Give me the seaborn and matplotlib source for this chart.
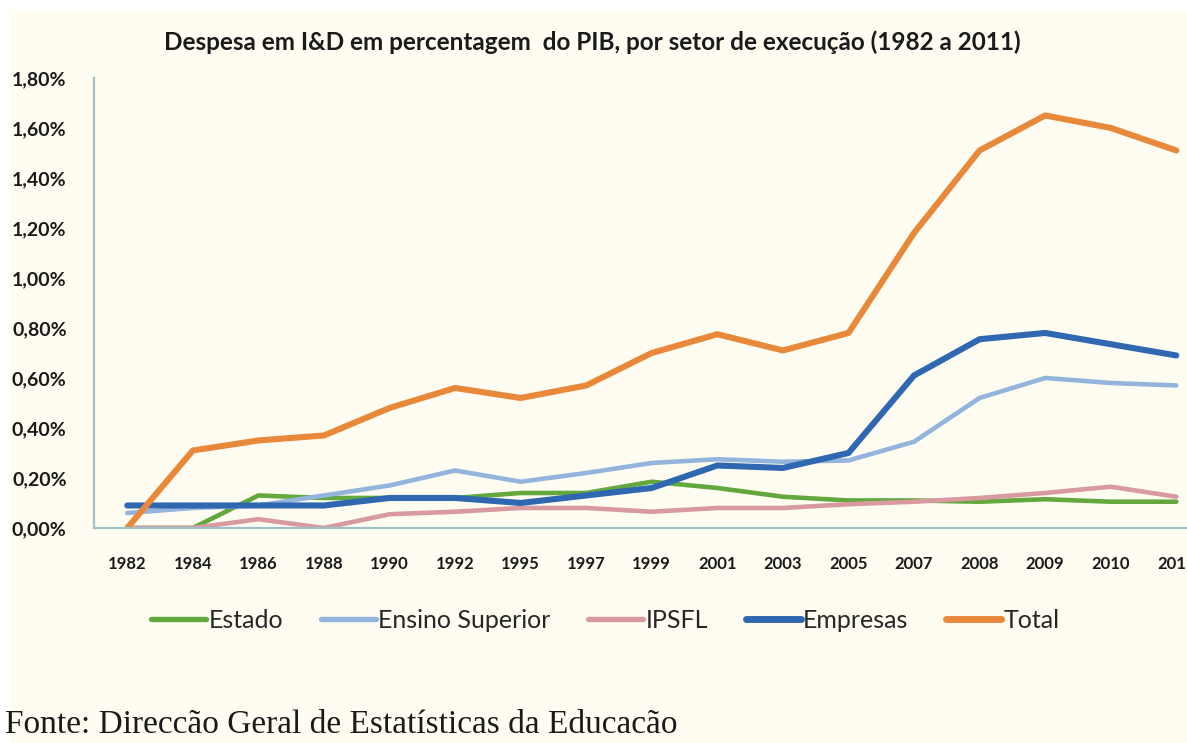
import numpy as np
import pandas as pd
import matplotlib
matplotlib.use('Agg')
import matplotlib.pyplot as plt
from matplotlib.patches import Rectangle
import seaborn as sns

# dados (% do PIB)
anos = ['1982', '1984', '1986', '1988', '1990', '1992', '1995', '1997', '1999',
        '2001', '2003', '2005', '2007', '2008', '2009', '2010', '2011']
estado = [0.00, 0.00, 0.13, 0.12, 0.12, 0.12, 0.14, 0.14, 0.185,
          0.16, 0.125, 0.11, 0.11, 0.105, 0.115, 0.105, 0.105]
ensino_superior = [0.06, 0.08, 0.09, 0.13, 0.17, 0.23, 0.185, 0.22, 0.26,
                   0.275, 0.265, 0.27, 0.345, 0.52, 0.60, 0.58, 0.57]
ipsfl = [0.00, 0.00, 0.035, 0.00, 0.055, 0.065, 0.08, 0.08, 0.065,
         0.08, 0.08, 0.095, 0.105, 0.12, 0.14, 0.165, 0.125]
empresas = [0.09, 0.09, 0.09, 0.09, 0.12, 0.12, 0.10, 0.13, 0.16,
            0.25, 0.24, 0.30, 0.61, 0.755, 0.78, 0.735, 0.69]
total = [0.00, 0.31, 0.35, 0.37, 0.48, 0.56, 0.52, 0.57, 0.70,
         0.775, 0.71, 0.78, 1.18, 1.51, 1.65, 1.60, 1.51]

series = ['Estado', 'Ensino Superior', 'IPSFL', 'Empresas', 'Total']
cores = ['#62A83E', '#93B4DC', '#D89A9E', '#2F67B1', '#E8883A']
larguras = [3.3, 3.3, 3.3, 4.4, 4.4]

df = pd.DataFrame({'ano': anos, 'Estado': estado, 'Ensino Superior': ensino_superior,
                   'IPSFL': ipsfl, 'Empresas': empresas, 'Total': total})
df['pos'] = np.arange(len(anos))

creme = '#FFFDF1'
fonte = ['Lato', 'DejaVu Sans']

sns.set_style('white')
plt.rcParams['font.family'] = fonte

fig = plt.figure(figsize=(11.87, 7.43), dpi=100, facecolor='white')
fundo = Rectangle((10 / 1187, 0), 1, 1 - 10 / 743, transform=fig.transFigure,
                  facecolor=creme, edgecolor='none', zorder=-10)
fig.patches.append(fundo)

ax = fig.add_axes([0.0796, 0.2894, 0.939, 0.6057])
ax.set_facecolor('none')

for nome, cor, lw in zip(series, cores, larguras):
    sns.lineplot(data=df, x='pos', y=nome, color=cor, linewidth=lw,
                 ax=ax, solid_capstyle='round', legend=False)

ax.set_xlim(-0.5, 16.5)
ax.set_ylim(0, 1.8)
ax.set_xticks(df['pos'])
ax.set_xticklabels(anos, fontsize=12, fontweight='bold', color='#1a1a1a')
yt = np.arange(0, 1.81, 0.2)
ax.set_yticks(yt)
ax.set_yticklabels(['{:.2f}%'.format(v).replace('.', ',') for v in yt],
                   fontsize=14, fontweight='bold', color='#1a1a1a')
ax.tick_params(axis='x', length=0, pad=20)
ax.tick_params(axis='y', length=0, pad=20)
ax.set_xlabel('')
ax.set_ylabel('')
for s in ['top', 'right']:
    ax.spines[s].set_visible(False)
for s in ['left', 'bottom']:
    ax.spines[s].set_color('#9FBFCC')
    ax.spines[s].set_linewidth(1.6)

fig.text(0.499, 0.943, 'Despesa em I&D em percentagem  do PIB, por setor de execução (1982 a 2011)',
         ha='center', va='center', fontsize=17.5, fontweight='bold', color='#1a1a1a')

handles = [plt.Line2D([], [], color=c, linewidth=lw + 0.6) for c, lw in zip(cores, larguras)]
fig.legend(handles, series, loc='center', bbox_to_anchor=(0.51, 0.1655), ncol=5,
           frameon=False, fontsize=18, handlelength=2.2, handletextpad=0.1,
           columnspacing=1.5)

fig.text(0.004, 0.013, 'Fonte: Direccão Geral de Estatísticas da Educacão',
         ha='left', va='baseline', fontsize=24, color='#1a1a1a',
         family=['Liberation Serif', 'DejaVu Serif'])

plt.savefig('out.png', dpi=100, facecolor=fig.get_facecolor())
